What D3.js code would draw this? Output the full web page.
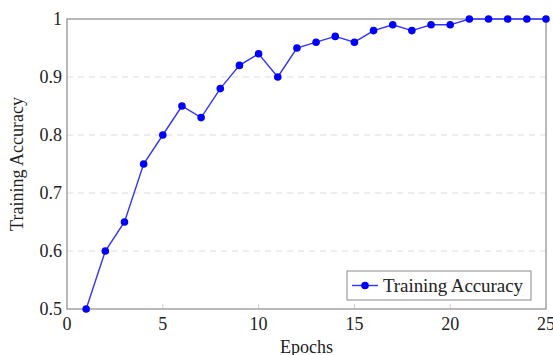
<!DOCTYPE html>
<html>
<head>
<meta charset="utf-8">
<script src="https://cdn.jsdelivr.net/npm/d3@7"></script>
<style>
  body { margin: 0; background: #fff; }
  text { font-family: "Liberation Serif", "DejaVu Serif", serif; fill: #222; }
</style>
</head>
<body>
<script>
// data
var epochs = [1,2,3,4,5,6,7,8,9,10,11,12,13,14,15,16,17,18,19,20,21,22,23,24,25];
var accuracy = [0.50,0.60,0.65,0.75,0.80,0.85,0.83,0.88,0.92,0.94,0.90,0.95,0.96,0.97,0.96,0.98,0.99,0.98,0.99,0.99,1,1,1,1,1];
var xTicks = [0,5,10,15,20,25];
var yTicks = [0.5,0.6,0.7,0.8,0.9,1];
var yTickLabels = ["0.5","0.6","0.7","0.8","0.9","1"];

var W = 553, H = 355;
// plot box (window.top is taken, so pL/pR/pT/pB)
var pL = 67, pR = 546, pT = 19, pB = 309;

var svg = d3.select("body").append("svg")
	.attr("width", W)
	.attr("height", H);

var x = d3.scaleLinear().domain([0, 25]).range([pL, pR]);
var y = d3.scaleLinear().domain([0.5, 1]).range([pB, pT]);

// dashed grid
svg.append("g").selectAll("line")
	.data(yTicks.filter(function(d){ return d > 0.5 && d < 1; }))
	.enter().append("line")
	.attr("x1", pL).attr("x2", pR)
	.attr("y1", function(d){ return y(d); })
	.attr("y2", function(d){ return y(d); })
	.attr("stroke", "#dcdcdc")
	.attr("stroke-dasharray", "6,5");

// small x ticks (inside)
svg.append("g").selectAll("line")
	.data(xTicks.filter(function(d){ return d > 0 && d < 25; }))
	.enter().append("line")
	.attr("x1", function(d){ return x(d); })
	.attr("x2", function(d){ return x(d); })
	.attr("y1", pB).attr("y2", pB - 5)
	.attr("stroke", "#cfcfcf");

// frame
svg.append("rect")
	.attr("x", pL).attr("y", pT)
	.attr("width", pR - pL).attr("height", pB - pT)
	.attr("fill", "none")
	.attr("stroke", "#8a8a8a")
	.attr("stroke-width", 1.2);

// tick labels
svg.append("g").selectAll("text")
	.data(xTicks)
	.enter().append("text")
	.attr("x", function(d){ return x(d); })
	.attr("y", pB + 21)
	.attr("text-anchor", "middle")
	.attr("font-size", 18)
	.text(function(d){ return d; });

svg.append("g").selectAll("text")
	.data(yTicks)
	.enter().append("text")
	.attr("x", pL - 5)
	.attr("y", function(d){ return y(d) + 6; })
	.attr("text-anchor", "end")
	.attr("font-size", 18)
	.text(function(d, i){ return yTickLabels[i]; });

// axis labels
svg.append("text")
	.attr("x", (pL + pR) / 2)
	.attr("y", 353)
	.attr("text-anchor", "middle")
	.attr("font-size", 18)
	.text("Epochs");

svg.append("text")
	.attr("transform", "translate(23," + ((pT + pB) / 2) + ") rotate(-90)")
	.attr("text-anchor", "middle")
	.attr("font-size", 18)
	.text("Training Accuracy");

// the line
var pts = epochs.map(function(e, i){ return [e, accuracy[i]]; });
var line = d3.line()
	.x(function(d){ return x(d[0]); })
	.y(function(d){ return y(d[1]); });

svg.append("path")
	.datum(pts)
	.attr("d", line)
	.attr("fill", "none")
	.attr("stroke", "#3333ff")
	.attr("stroke-width", 1.4);

svg.append("g").selectAll("circle")
	.data(pts)
	.enter().append("circle")
	.attr("cx", function(d){ return x(d[0]); })
	.attr("cy", function(d){ return y(d[1]); })
	.attr("r", 3.8)
	.attr("fill", "#0000ff");

// legend
var lg = svg.append("g");
lg.append("rect")
	.attr("x", 347).attr("y", 271)
	.attr("width", 184).attr("height", 29)
	.attr("fill", "#fff")
	.attr("stroke", "#8a8a8a");
lg.append("line")
	.attr("x1", 352).attr("x2", 378)
	.attr("y1", 285.5).attr("y2", 285.5)
	.attr("stroke", "#3333ff")
	.attr("stroke-width", 1.4);
lg.append("circle")
	.attr("cx", 365).attr("cy", 285.5)
	.attr("r", 3.8)
	.attr("fill", "#0000ff");
lg.append("text")
	.attr("x", 383).attr("y", 291.5)
	.attr("font-size", 19)
	.attr("textLength", 140)
	.text("Training Accuracy");
</script>
</body>
</html>
